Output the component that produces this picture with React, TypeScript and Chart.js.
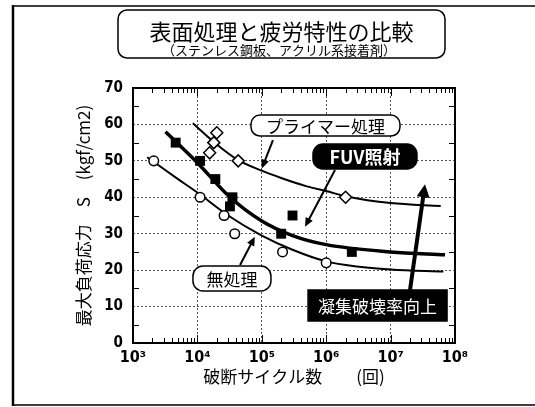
import React, { useEffect, useRef } from "react";
import { Chart, registerables } from "chart.js";
Chart.register(...registerables);

// ---- measured points ----
const untreatedN = [2.1e3, 1.1e4, 2.6e4, 3.8e4, 2.1e5, 1.0e6];
const untreatedS = [50, 40, 35, 30, 25, 22];
const fuvN = [4.6e3, 1.1e4, 1.9e4, 3.5e4, 3.2e4, 2.0e5, 3.0e5, 2.5e6];
const fuvS = [55, 50, 45, 40, 37.5, 30, 35, 25];
const primerN = [1.55e4, 1.8e4, 2.0e4, 4.3e4, 2.0e6];
const primerS = [52.2, 55, 57.7, 50, 40];

// ---- fitted curves ----
const primerFitN = [8.5e3, 2e4, 4.3e4, 1e5, 2e5, 5e5, 1e6, 2e6, 1e7, 6e7];
const primerFitS = [60.3, 54.5, 50.2, 47.3, 45.3, 43, 41.7, 40.3, 38.4, 37.6];
const fuvFitN = [3.2e3, 1e4, 3e4, 1e5, 3e5, 1e6, 1e7, 7e7];
const fuvFitS = [58, 49.5, 40.5, 33.5, 29.5, 27, 25, 24.2];
const untreatedFitN = [1.66e3, 5e3, 1e4, 3e4, 1e5, 3e5, 1e6, 3e6, 1e7, 6.6e7];
const untreatedFitS = [51, 45, 41.3, 35, 29.5, 25.6, 22.4, 21, 20.2, 19.6];

// ---- axes ----
const xTickValues = [1e3, 1e4, 1e5, 1e6, 1e7, 1e8];
const xTickLabels = ["10³", "10⁴", "10⁵", "10⁶", "10⁷", "10⁸"];
const xMinorMultipliers = [2, 3, 4, 5, 6, 7, 8, 9];
const yMinorValues = [5, 15, 25, 35, 45, 55, 65];

// ---- texts ----
const titleText = "表面処理と疲労特性の比較";
const subtitleText = "（ステンレス鋼板、アクリル系接着剤）";
const xTitle = "破断サイクル数　　(回)";
const yTitle = "最大負荷応力　S　(kgf/cm2)";

// annotation labels anchored in data coordinates [N, S]
const labelPrimer = { text: "プライマー処理", at: [9.75e5, 59.7] };
const labelFuv = { text: "FUV照射", at: [4.0e6, 51.2] };
const labelUntreated = { text: "無処理", at: [3.44e4, 17.7] };
const labelCohesive = { text: "凝集破壊率向上", at: [6.27e6, 10.3] };

// arrows in data coordinates [fromN, fromS, toN, toS]
const arrowPrimer = [1.49e5, 55.7, 1.0e5, 47.9];
const arrowFuv = [1.37e6, 47.5, 4.69e5, 31.9];
const arrowUntreated = [4.6e4, 21.4, 7.8e4, 29.2];
const arrowCohesive = [2.0e7, 14.5, 3.42e7, 43.6];

const CJK = '"Noto Sans CJK JP", "Noto Sans", sans-serif';
const NUM = '"DejaVu Sans Condensed", "DejaVu Sans", sans-serif';

function zip(xs: number[], ys: number[]) {
  return xs.map((x, i) => ({ x, y: ys[i] }));
}

function drawArrow(ctx: CanvasRenderingContext2D, x1: number, y1: number, x2: number, y2: number, w: number, hl: number, hw: number) {
  const a = Math.atan2(y2 - y1, x2 - x1);
  const bx = x2 - hl * Math.cos(a);
  const by = y2 - hl * Math.sin(a);
  ctx.lineWidth = w;
  ctx.lineCap = "butt";
  ctx.beginPath();
  ctx.moveTo(x1, y1);
  ctx.lineTo(bx + Math.cos(a) * 1, by + Math.sin(a) * 1);
  ctx.stroke();
  ctx.beginPath();
  ctx.moveTo(x2, y2);
  ctx.lineTo(bx + (hw / 2) * Math.sin(a), by - (hw / 2) * Math.cos(a));
  ctx.lineTo(bx - (hw / 2) * Math.sin(a), by + (hw / 2) * Math.cos(a));
  ctx.closePath();
  ctx.fill();
}

const decorPlugin = {
  id: "decor",
  afterDatasetsDraw(chart: any) {
    const { ctx, chartArea: ca, scales } = chart;
    const x = scales.x;
    const y = scales.y;
    ctx.save();
    ctx.strokeStyle = "#000";
    ctx.fillStyle = "#000";
    ctx.lineWidth = 1;
    const seg = (a: number, b: number, c: number, d: number) => {
      ctx.beginPath();
      ctx.moveTo(a, b);
      ctx.lineTo(c, d);
      ctx.stroke();
    };
    // minor ticks on log axis
    for (let i = 0; i < xTickValues.length - 1; i++) {
      for (const m of xMinorMultipliers) {
        const px = Math.round(x.getPixelForValue(xTickValues[i] * m)) + 0.5;
        seg(px, ca.bottom, px, ca.bottom - 5);
        seg(px, ca.top, px, ca.top + 5);
      }
    }
    for (const v of xTickValues) {
      const px = Math.round(x.getPixelForValue(v)) + 0.5;
      seg(px, ca.bottom, px, ca.bottom - 8);
      seg(px, ca.top, px, ca.top + 8);
    }
    for (const v of yMinorValues) {
      const py = Math.round(y.getPixelForValue(v)) + 0.5;
      seg(ca.left, py, ca.left + 6, py);
      seg(ca.right, py, ca.right - 6, py);
    }
    // plot frame
    ctx.lineWidth = 2;
    ctx.strokeRect(ca.left, ca.top, ca.right - ca.left, ca.bottom - ca.top);

    const P = (n: number, s: number) => [x.getPixelForValue(n), y.getPixelForValue(s)];

    // arrows
    const arr = (a: number[], w: number, hl: number, hw: number) => {
      const [x1, y1] = P(a[0], a[1]);
      const [x2, y2] = P(a[2], a[3]);
      drawArrow(ctx, x1, y1, x2, y2, w, hl, hw);
    };
    arr(arrowPrimer, 2, 9, 8);
    arr(arrowFuv, 2, 9, 8);
    arr(arrowUntreated, 2, 9, 8);
    arr(arrowCohesive, 4, 13, 13);

    // labels
    const box = (lab: any, w: number, h: number, r: number, dark: boolean, font: string) => {
      const [cx, cy] = P(lab.at[0], lab.at[1]);
      ctx.beginPath();
      if (r > 0) ctx.roundRect(cx - w / 2, cy - h / 2, w, h, r);
      else ctx.rect(cx - w / 2, cy - h / 2, w, h);
      ctx.fillStyle = dark ? "#000" : "#fff";
      ctx.fill();
      ctx.lineWidth = 1.5;
      ctx.strokeStyle = "#000";
      ctx.stroke();
      ctx.fillStyle = dark ? "#fff" : "#000";
      ctx.font = font;
      ctx.textAlign = "center";
      ctx.textBaseline = "middle";
      ctx.fillText(lab.text, cx, cy + 1);
    };
    box(labelPrimer, 149, 21, 9, false, `17px ${CJK}`);
    box(labelFuv, 104, 25, 10, true, `bold 18px ${CJK}`);
    box(labelUntreated, 78, 25, 10, false, `17px ${CJK}`);
    box(labelCohesive, 139, 31, 0, true, `17px ${CJK}`);
    ctx.restore();
  },
  afterDraw(chart: any) {
    const { ctx, width, height } = chart;
    ctx.save();
    ctx.strokeStyle = "#000";
    // outer frame (left, top, bottom)
    ctx.lineWidth = 2.5;
    ctx.beginPath();
    ctx.moveTo(13, 5);
    ctx.lineTo(13, height - 1);
    ctx.stroke();
    ctx.lineWidth = 1.5;
    ctx.beginPath();
    ctx.moveTo(13, 6);
    ctx.lineTo(width, 6);
    ctx.moveTo(13, 405);
    ctx.lineTo(width, 405);
    ctx.stroke();
    // title box
    ctx.lineWidth = 1.5;
    ctx.beginPath();
    ctx.roundRect(118, 10, 327, 48, 9);
    ctx.stroke();
    ctx.fillStyle = "#000";
    ctx.textAlign = "center";
    ctx.textBaseline = "middle";
    ctx.font = `22px ${CJK}`;
    ctx.fillText(titleText, 281.5, 32);
    ctx.font = `13px ${CJK}`;
    ctx.fillText(subtitleText, 279, 50);
    ctx.restore();
  },
};

export default function App() {
  const ref = useRef<HTMLCanvasElement | null>(null);
  useEffect(() => {
    document.body.style.margin = "0";
    const canvas = ref.current!;
    const tickFont = { family: NUM, size: 15, weight: "bold" as const };
    const chart = new Chart(canvas, {
      type: "scatter",
      data: {
        datasets: [
          {
            label: "プライマー処理",
            data: zip(primerN, primerS),
            pointStyle: "rectRot",
            pointRadius: 6,
            pointBackgroundColor: "#fff",
            pointBorderColor: "#000",
            pointBorderWidth: 1.5,
            showLine: false,
          },
          {
            label: "無処理",
            data: zip(untreatedN, untreatedS),
            pointStyle: "circle",
            pointRadius: 4.8,
            pointBackgroundColor: "#fff",
            pointBorderColor: "#000",
            pointBorderWidth: 1.5,
            showLine: false,
          },
          {
            label: "FUV照射",
            data: zip(fuvN, fuvS),
            pointStyle: "rect",
            pointRadius: 7,
            pointBackgroundColor: "#000",
            pointBorderColor: "#000",
            pointBorderWidth: 0,
            showLine: false,
          },
          {
            label: "プライマー処理 fit",
            data: zip(primerFitN, primerFitS),
            showLine: true,
            borderColor: "#000",
            borderWidth: 2,
            pointRadius: 0,
            cubicInterpolationMode: "monotone",
          },
          {
            label: "FUV照射 fit",
            data: zip(fuvFitN, fuvFitS),
            showLine: true,
            borderColor: "#000",
            borderWidth: 3.5,
            pointRadius: 0,
            cubicInterpolationMode: "monotone",
          },
          {
            label: "無処理 fit",
            data: zip(untreatedFitN, untreatedFitS),
            showLine: true,
            borderColor: "#000",
            borderWidth: 2,
            pointRadius: 0,
            cubicInterpolationMode: "monotone",
          },
        ],
      },
      options: {
        responsive: false,
        animation: false,
        layout: { padding: { left: 0, top: 88, right: 80, bottom: 0 } },
        plugins: { legend: { display: false }, tooltip: { enabled: false }, title: { display: false } },
        scales: {
          x: {
            type: "logarithmic",
            position: "bottom",
            min: 1e3,
            max: 1e8,
            afterBuildTicks: (s: any) => {
              s.ticks = xTickValues.map((v) => ({ value: v, major: true }));
            },
            afterFit: (s: any) => {
              s.height = 64;
            },
            ticks: {
              autoSkip: false,
              maxRotation: 0,
              padding: 5,
              color: "#000",
              font: { family: NUM, size: 16, weight: "bold" as const },
              callback: (v: any) => {
                const i = xTickValues.indexOf(Number(v));
                return i >= 0 ? xTickLabels[i] : "";
              },
            },
            grid: { color: "#555", lineWidth: 1, drawTicks: false },
            border: { display: false, dash: [2, 2] },
            title: {
              display: true,
              text: xTitle,
              color: "#000",
              font: { family: CJK, size: 17 },
              padding: { top: 0, bottom: 20 },
            },
          },
          y: {
            type: "linear",
            position: "left",
            min: 0,
            max: 70,
            afterFit: (s: any) => {
              s.width = 133;
            },
            ticks: { stepSize: 10, padding: 10, color: "#000", font: tickFont },
            grid: { color: "#555", lineWidth: 1, drawTicks: false },
            border: { display: false, dash: [2, 2] },
            title: {
              display: true,
              text: yTitle,
              color: "#000",
              font: { family: CJK, size: 17 },
              padding: { top: 73, bottom: 0 },
            },
          },
        },
      },
      plugins: [decorPlugin],
    } as any);
    return () => chart.destroy();
  }, []);
  return (
    <div style={{ position: "absolute", left: 0, top: 0, width: 535, height: 407, background: "#fff" }}>
      <canvas ref={ref} width={535} height={407} style={{ display: "block" }} />
    </div>
  );
}
